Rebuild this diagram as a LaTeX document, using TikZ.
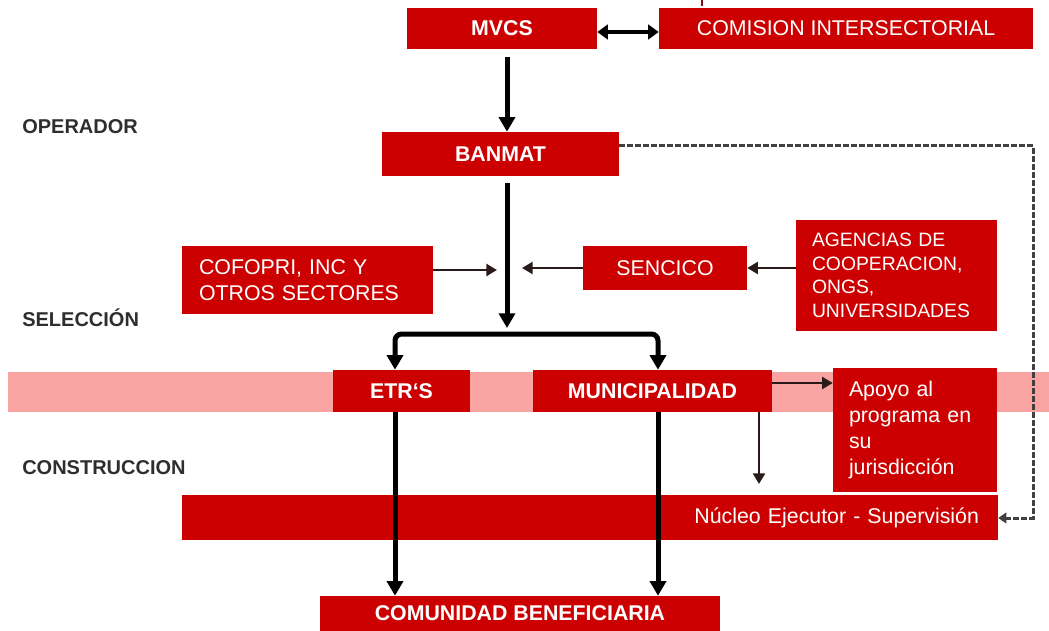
\documentclass[tikz,border=0pt]{standalone}
\usepackage{fontspec}
\setmainfont{Liberation Sans}
\usetikzlibrary{arrows.meta}
\definecolor{boxred}{HTML}{CC0000}
\definecolor{bandpink}{HTML}{F9A3A3}
\definecolor{labelgray}{HTML}{2E2E2E}
\definecolor{dashgray}{HTML}{404040}
\definecolor{thinline}{HTML}{2A1A1A}
\definecolor{tickred}{HTML}{801010}
\tikzset{
  box/.style={fill=boxred, draw=none, text=white, inner sep=0pt, font=\fontsize{16}{19}\selectfont},
  bbox/.style={box, font=\fontsize{16}{19}\bfseries\selectfont},
  wh/.style 2 args={minimum width=#1*0.75pt, minimum height=#2*0.75pt},
  lbl/.style={anchor=west, text=labelgray, inner sep=0pt, font=\fontsize{15}{17}\bfseries\selectfont},
  big/.style={line width=3.75pt, -{Triangle[width=12pt,length=11pt]}},
  bigtwo/.style={line width=3.75pt, {Triangle[width=12pt,length=11pt]}-{Triangle[width=12pt,length=11pt]}, rounded corners=5pt},
  dbl/.style={line width=3pt, {Triangle[width=11pt,length=8pt]}-{Triangle[width=11pt,length=8pt]}},
  thinarrow/.style={line width=1.8pt, color=thinline, -{Triangle[width=9pt,length=8pt]}},
  dashedlink/.style={line width=2.25pt, color=dashgray, dash pattern=on 4pt off 2pt, -{Triangle[width=8pt,length=6pt]}}
}
\begin{document}
\begin{tikzpicture}[x=0.75pt,y=-0.75pt]
\useasboundingbox (0,0) rectangle (1049,631);

% band
\node[fill=bandpink, wh={1041}{40}, inner sep=0pt] (band) at (528.5,392) {};

% boxes
\node[bbox, wh={190}{41}] (mvcs) at (502,28.5) {MVCS};
\node[box, wh={374}{41}] (comision) at (846,28.5) {COMISION INTERSECTORIAL};
\node[bbox, wh={237}{44}] (banmat) at (500.5,154) {BANMAT};
\node[box, wh={251}{68}, text width=162.75pt, inner xsep=12.75pt, align=left] (cofopri) at (307.5,280) {COFOPRI, INC Y\\OTROS SECTORES};
\node[box, wh={164}{44}] (sencico) at (665,268) {SENCICO};
\node[box, wh={201}{111}, text width=126.75pt, inner xsep=12pt, align=left, font=\fontsize{14.5}{17.6}\selectfont] (agencias) at (896.5,275.5) {AGENCIAS DE\\COOPERACION,\\ONGS,\\UNIVERSIDADES};
\node[bbox, wh={137}{42}] (etrs) at (401.5,391) {ETR`S};
\node[bbox, wh={239}{42}] (muni) at (652.5,391) {MUNICIPALIDAD};
\node[box, wh={164}{124}, text width=99pt, inner xsep=12pt, align=left, font=\fontsize{16}{19.5}\selectfont] (apoyo) at (915,430) {Apoyo al\\programa en\\su\\jurisdicción};
\node[box, wh={816}{45}, text width=583.5pt, inner xsep=14.25pt, align=right] (nucleo) at (590,517.5) {Núcleo Ejecutor - Supervisión};
\node[bbox, wh={400}{35}] (comunidad) at (520,613.5) {COMUNIDAD BENEFICIARIA};

% labels
\node[lbl] (operador) at (22,127) {OPERADOR};
\node[lbl] (seleccion) at (22,318) {SELECCIÓN};
\node[lbl] (construccion) at (22,468) {CONSTRUCCION};

% coordinates
\coordinate (tk1) at (702,0);
\coordinate (tk2) at (702,6);
\coordinate (dd) at (0,32);
\coordinate (m1) at (507,57);
\coordinate (t1) at (507,183);
\coordinate (t2) at (507,328);
\coordinate (bl) at (395,334);
\coordinate (br) at (658,334);
\coordinate (cofoEnd) at (497,270);
\coordinate (sencEnd) at (522,268);
\coordinate (ma) at (772,383);
\coordinate (md) at (759,484);
\coordinate (dc1) at (1033,146);
\coordinate (dc2) at (1033,518);

% connectors
\draw[line width=2pt, color=tickred] (tk1) -- (tk2);
\draw[dbl] (mvcs.east |- dd) -- (comision.west |- dd);
\draw[big] (m1) -- (m1 |- banmat.north);
\draw[big] (t1) -- (t2);
\draw[bigtwo] (bl |- etrs.north) -- (bl) -- (br) -- (br |- muni.north);
\draw[thinarrow] (cofopri.east |- cofoEnd) -- (cofoEnd);
\draw[thinarrow] (sencico.west |- sencEnd) -- (sencEnd);
\draw[thinarrow] (agencias.west |- sencico.east) -- (sencico.east);
\draw[thinarrow] (ma) -- (ma -| apoyo.west);
\draw[thinarrow] (md |- muni.south) -- (md);
\draw[dashedlink] (banmat.east |- dc1) -- (dc1) -- (dc2) -- (dc2 -| nucleo.east);
\draw[big] (bl |- etrs.south) -- (bl |- comunidad.north);
\draw[big] (br |- muni.south) -- (br |- comunidad.north);
\end{tikzpicture}
\end{document}
